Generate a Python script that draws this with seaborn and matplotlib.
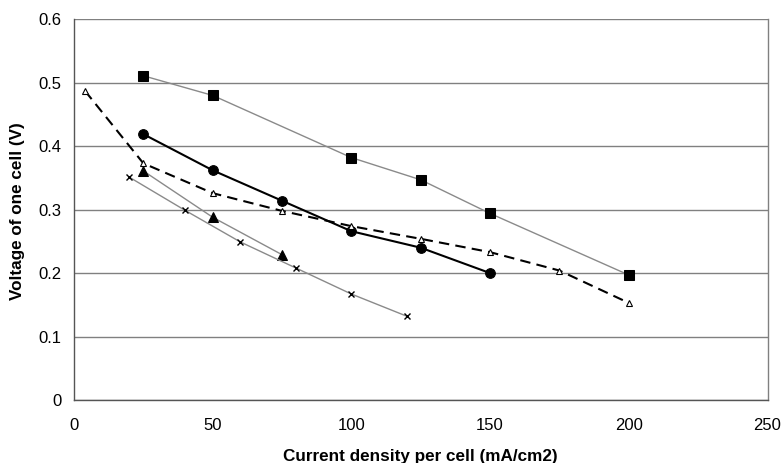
import matplotlib
matplotlib.use("Agg")
import matplotlib.pyplot as plt
import seaborn as sns
import pandas as pd
from matplotlib.ticker import FuncFormatter

# Data
sq_x = [25, 50, 100, 125, 150, 200]
sq_y = [0.511, 0.480, 0.382, 0.347, 0.294, 0.197]

ci_x = [25, 50, 75, 100, 125, 150]
ci_y = [0.419, 0.362, 0.314, 0.266, 0.240, 0.200]

ot_x = [4, 25, 50, 75, 100, 125, 150, 175, 200]
ot_y = [0.487, 0.373, 0.326, 0.298, 0.274, 0.254, 0.233, 0.204, 0.153]

ft_x = [25, 50, 75]
ft_y = [0.361, 0.288, 0.229]

xx_x = [20, 40, 60, 80, 100, 120]
xx_y = [0.351, 0.299, 0.249, 0.208, 0.167, 0.132]

x_ticks = [0, 50, 100, 150, 200, 250]
y_ticks = [0, 0.1, 0.2, 0.3, 0.4, 0.5, 0.6]

sns.set_style("white")
plt.rcParams['font.family'] = ['Liberation Sans', 'DejaVu Sans']

W, H = 782, 463
fig = plt.figure(figsize=(W / 100, H / 100), dpi=100)
left, right, top, bottom = 74, 767.5, 19.3, 400
ax = fig.add_axes([left / W, 1 - bottom / H, (right - left) / W, (bottom - top) / H])

grey = "#8a8a8a"

def draw(xs, ys, **kw):
    df = pd.DataFrame({"x": xs, "y": ys})
    sns.lineplot(data=df, x="x", y="y", sort=False, ax=ax, **kw)

draw(sq_x, sq_y, color=grey, lw=1.0, marker="s", markersize=7,
     markerfacecolor="black", markeredgecolor="black", zorder=3)
draw(ci_x, ci_y, color="black", lw=1.5, marker="o", markersize=7,
     markerfacecolor="black", markeredgecolor="black", zorder=3)
draw(ot_x, ot_y, color="black", lw=1.5, linestyle=(0, (5, 3)), marker="^", markersize=5,
     markerfacecolor="white", markeredgecolor="black", markeredgewidth=0.8, zorder=3)
draw(ft_x, ft_y, color=grey, lw=1.0, marker="^", markersize=7,
     markerfacecolor="black", markeredgecolor="black", zorder=3)
draw(xx_x, xx_y, color=grey, lw=1.0, marker="x", markersize=5,
     markeredgecolor="black", markeredgewidth=1.0, zorder=3)

ax.set_xlim(0, 250)
ax.set_ylim(0, 0.6)
ax.set_xticks(x_ticks)
ax.set_yticks(y_ticks)
ax.yaxis.set_major_formatter(FuncFormatter(lambda v, p: "0" if abs(v) < 1e-9 else f"{v:.1f}"))
ax.xaxis.set_major_formatter(FuncFormatter(lambda v, p: f"{int(round(v))}"))

ax.grid(axis="y", color="#808080", lw=1.0)
ax.set_axisbelow(True)
for s in ["left", "bottom"]:
    ax.spines[s].set_color("#555555")
    ax.spines[s].set_linewidth(1.0)
ax.spines["right"].set_color("#808080")
ax.spines["right"].set_linewidth(1.0)
ax.spines["top"].set_visible(False)

ax.tick_params(axis="both", direction="out", length=4, width=1, color="#555555",
               labelsize=12, labelcolor="black")
ax.tick_params(axis="y", pad=5)
ax.tick_params(axis="x", pad=9)

ax.set_xlabel("Current density per cell (mA/cm2)", fontsize=12.3, fontweight="bold",
              color="black", va="center")
ax.set_ylabel("Voltage of one cell (V)", fontsize=12.3, fontweight="bold",
              color="black", va="center")
ax.xaxis.set_label_coords(((282 + 558) / 2 - left) / (right - left), -(456 - bottom) / (bottom - top))
ax.yaxis.set_label_coords(-(left - 18) / (right - left), (bottom - 211) / (bottom - top))

fig.savefig("out.png", dpi=100)
